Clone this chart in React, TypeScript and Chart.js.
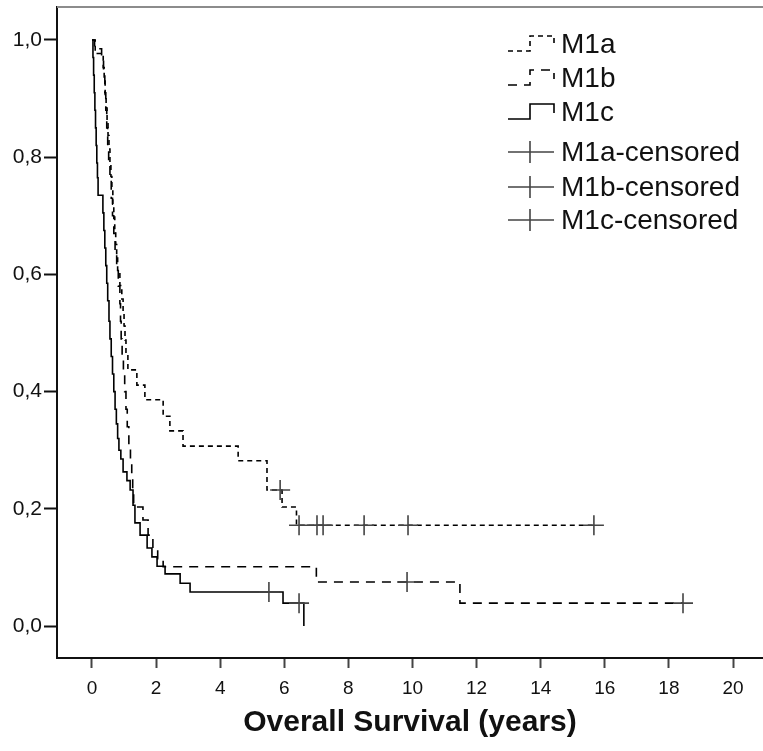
import { useEffect, useRef } from "react";
import { Chart, registerables } from "chart.js";

Chart.register(...registerables);

const FONT = '"Liberation Sans", Arial, sans-serif';

// Axis ticks
const xTicks = [0, 2, 4, 6, 8, 10, 12, 14, 16, 18, 20];
const yTicks = [0, 0.2, 0.4, 0.6, 0.8, 1.0];

// M1a survival steps
const m1aTimes = [0, 0.1, 0.35, 0.38, 0.41, 0.44, 0.47, 0.5, 0.53, 0.56, 0.59, 0.62, 0.65, 0.68, 0.71, 0.74, 0.77, 0.8, 0.87, 0.93, 0.97, 1.0, 1.03, 1.06, 1.12, 1.4, 1.65, 2.22, 2.43, 2.84, 4.56, 5.46, 5.93, 6.38, 15.66];
const m1aSurv = [1, 0.977, 0.953, 0.93, 0.907, 0.884, 0.86, 0.837, 0.814, 0.79, 0.767, 0.744, 0.72, 0.698, 0.674, 0.651, 0.628, 0.605, 0.581, 0.558, 0.535, 0.512, 0.488, 0.465, 0.437, 0.411, 0.386, 0.358, 0.333, 0.307, 0.282, 0.232, 0.203, 0.172, 0.172];
const m1aCensTimes = [5.87, 6.46, 7.02, 7.21, 8.49, 9.86, 15.66];
const m1aCensSurv = [0.232, 0.172, 0.172, 0.172, 0.172, 0.172, 0.172];

// M1b survival steps
const m1bTimes = [0, 0.08, 0.3, 0.36, 0.4, 0.43, 0.46, 0.49, 0.52, 0.56, 0.6, 0.64, 0.68, 0.72, 0.77, 0.82, 0.87, 0.89, 0.91, 0.94, 0.98, 1.02, 1.06, 1.1, 1.15, 1.2, 1.24, 1.27, 1.3, 1.59, 1.75, 1.9, 2.05, 2.22, 7.0, 11.48, 18.44];
const m1bSurv = [1, 0.985, 0.97, 0.94, 0.91, 0.88, 0.85, 0.82, 0.79, 0.76, 0.73, 0.7, 0.67, 0.64, 0.61, 0.58, 0.55, 0.52, 0.49, 0.46, 0.43, 0.4, 0.37, 0.34, 0.31, 0.285, 0.258, 0.23, 0.203, 0.181, 0.155, 0.13, 0.115, 0.101, 0.075, 0.039, 0.039];
const m1bCensTimes = [9.83, 18.44];
const m1bCensSurv = [0.075, 0.039];

// M1c survival steps
const m1cTimes = [0, 0.03, 0.05, 0.07, 0.09, 0.11, 0.13, 0.15, 0.17, 0.19, 0.34, 0.37, 0.4, 0.43, 0.46, 0.49, 0.53, 0.56, 0.6, 0.64, 0.68, 0.72, 0.76, 0.8, 0.84, 0.9, 0.97, 1.09, 1.19, 1.28, 1.34, 1.5, 1.72, 1.87, 2.03, 2.28, 2.75, 3.06, 5.96, 6.61];
const m1cSurv = [1, 0.97, 0.94, 0.91, 0.88, 0.85, 0.82, 0.79, 0.765, 0.735, 0.705, 0.675, 0.645, 0.615, 0.585, 0.555, 0.52, 0.49, 0.46, 0.43, 0.4, 0.37, 0.345, 0.32, 0.3, 0.285, 0.263, 0.248, 0.232, 0.206, 0.176, 0.155, 0.133, 0.118, 0.102, 0.089, 0.073, 0.058, 0.039, 0];
const m1cCensTimes = [5.52, 6.46];
const m1cCensSurv = [0.058, 0.039];

// Legend
const legendLabels = ["M1a", "M1b", "M1c", "M1a-censored", "M1b-censored", "M1c-censored"];

const DASH_A = [5, 4];
const DASH_B = [9, 7];

const zip = (xs: number[], ys: number[]) => xs.map((x, i) => ({ x, y: ys[i] }));

const kmLegend = {
  id: "kmLegend",
  afterDraw(chart: any) {
    const ctx = chart.ctx as CanvasRenderingContext2D;
    const rowsY = [44, 78, 112, 152, 187, 220];
    const x0 = 508, xm = 530, x1 = 554, tx = 561;
    ctx.save();
    ctx.font = `28px ${FONT}`;
    ctx.textBaseline = "middle";
    ctx.textAlign = "left";
    legendLabels.forEach((label, i) => {
      const y = rowsY[i];
      ctx.lineWidth = 1.6;
      if (i < 3) {
        ctx.strokeStyle = "#000";
        ctx.setLineDash(i === 0 ? DASH_A : i === 1 ? DASH_B : []);
        ctx.beginPath();
        ctx.moveTo(x0, y + 7);
        ctx.lineTo(xm, y + 7);
        ctx.lineTo(xm, y - 8);
        ctx.lineTo(x1, y - 8);
        ctx.lineTo(x1, y + 1);
        ctx.stroke();
      } else {
        ctx.setLineDash([]);
        ctx.strokeStyle = "#444";
        ctx.beginPath();
        ctx.moveTo(x0, y);
        ctx.lineTo(x1, y);
        ctx.moveTo(xm, y - 11);
        ctx.lineTo(xm, y + 11);
        ctx.stroke();
      }
      ctx.setLineDash([]);
      ctx.fillStyle = "#111";
      ctx.fillText(label, tx, y + 1);
    });
    // top frame line (grey)
    const a = chart.chartArea;
    ctx.strokeStyle = "#8c8c8c";
    ctx.lineWidth = 2;
    ctx.beginPath();
    ctx.moveTo(a.left, a.top);
    ctx.lineTo(a.right, a.top);
    ctx.stroke();
    ctx.restore();
  },
};

export default function App() {
  const ref = useRef<HTMLCanvasElement>(null);
  useEffect(() => {
    if (!ref.current) return;
    const lineDs = (label: string, xs: number[], ys: number[], dash: number[]) => ({
      type: "line" as const,
      label,
      data: zip(xs, ys),
      stepped: true,
      borderColor: "#000",
      borderWidth: 1.6,
      borderDash: dash,
      pointRadius: 0,
      fill: false,
      order: 2,
    });
    const censDs = (label: string, xs: number[], ys: number[]) => ({
      type: "scatter" as const,
      label,
      data: zip(xs, ys),
      pointStyle: "cross",
      pointRadius: 10,
      borderColor: "#444",
      borderWidth: 1.6,
      backgroundColor: "#444",
      order: 1,
    });
    const chart = new Chart(ref.current, {
      type: "line",
      data: {
        datasets: [
          lineDs("M1a", m1aTimes, m1aSurv, DASH_A),
          lineDs("M1b", m1bTimes, m1bSurv, DASH_B),
          lineDs("M1c", m1cTimes, m1cSurv, []),
          censDs("M1a-censored", m1aCensTimes, m1aCensSurv),
          censDs("M1b-censored", m1bCensTimes, m1bCensSurv),
          censDs("M1c-censored", m1cCensTimes, m1cCensSurv),
        ] as any,
      },
      options: {
        animation: false,
        responsive: false,
        devicePixelRatio: 1,
        layout: { autoPadding: false, padding: { top: 7, left: 0, right: 0, bottom: 0 } },
        plugins: { legend: { display: false }, tooltip: { enabled: false } },
        scales: {
          x: {
            type: "linear",
            min: -1.092,
            max: 20.936,
            afterBuildTicks: (s: any) => {
              s.ticks = xTicks.map((v) => ({ value: v }));
            },
            afterFit: (s: any) => {
              s.height = 93;
              s.paddingLeft = 0;
              s.paddingRight = 0;
            },
            grid: { drawOnChartArea: false, tickLength: 10, tickWidth: 2, tickColor: "#444" },
            border: { color: "#111", width: 2 },
            ticks: {
              font: { size: 19, family: FONT },
              color: "#111",
              padding: 9,
              maxRotation: 0,
              autoSkip: false,
            },
            title: {
              display: true,
              text: "Overall Survival (years)",
              font: { size: 30, weight: "bold", family: FONT },
              color: "#111",
              padding: { top: 0, bottom: 10 },
            },
          },
          y: {
            type: "linear",
            min: -0.0546,
            max: 1.0563,
            afterBuildTicks: (s: any) => {
              s.ticks = yTicks.map((v) => ({ value: v }));
            },
            afterFit: (s: any) => {
              s.width = 57;
              s.paddingTop = 0;
              s.paddingBottom = 0;
            },
            grid: { drawOnChartArea: false, tickLength: 13, tickWidth: 2, tickColor: "#111" },
            border: { color: "#111", width: 2 },
            ticks: {
              font: { size: 21, family: FONT },
              color: "#111",
              padding: 2,
              callback: (v: any) => Number(v).toFixed(1).replace(".", ","),
            },
          },
        },
      },
      plugins: [kmLegend],
    });
    return () => chart.destroy();
  }, []);
  return (
    <canvas
      ref={ref}
      width={763}
      height={751}
      style={{ position: "absolute", left: 0, top: 0, width: 763, height: 751 }}
    />
  );
}
